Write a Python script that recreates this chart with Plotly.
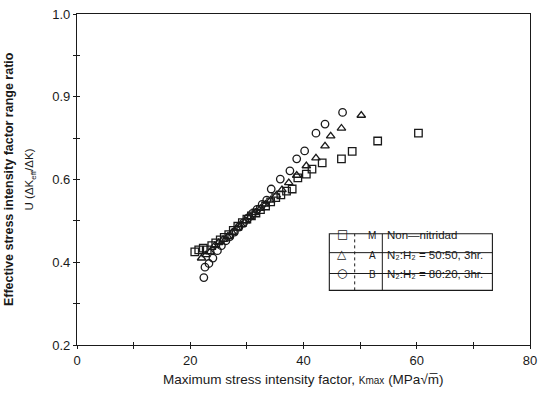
import plotly.graph_objects as go

# Series M: Non-nitrided (squares)
m_k = [20.8, 21.5, 22.3, 23.0, 23.8, 24.5, 25.3, 26.0, 26.8, 27.6, 28.4, 29.2, 30.0, 30.8,
       31.6, 32.4, 33.3, 34.2, 35.1, 36.0, 37.0, 38.0, 39.0, 40.5, 41.5, 43.3, 46.7, 48.6,
       53.1, 60.3]
m_u = [0.425, 0.430, 0.434, 0.430, 0.440, 0.447, 0.454, 0.460, 0.467, 0.477, 0.487, 0.496,
       0.504, 0.512, 0.519, 0.527, 0.536, 0.546, 0.556, 0.563, 0.572, 0.577, 0.604, 0.613,
       0.625, 0.640, 0.650, 0.668, 0.693, 0.712]
# Series A: N2:H2 = 50:50 (triangles)
a_k = [22.0, 22.8, 23.5, 24.3, 25.0, 25.8, 26.6, 27.4, 28.2, 29.0, 29.8, 30.6, 31.5, 32.4,
       33.3, 34.2, 35.2, 36.2, 37.4, 38.8, 40.5, 42.2, 43.8, 44.8, 46.7, 50.2]
a_u = [0.410, 0.418, 0.425, 0.440, 0.447, 0.455, 0.462, 0.472, 0.482, 0.490, 0.500, 0.510,
       0.520, 0.530, 0.540, 0.550, 0.562, 0.575, 0.592, 0.610, 0.633, 0.652, 0.681, 0.705,
       0.724, 0.755]
# Series B: N2:H2 = 80:20 (circles)
b_k = [22.4, 22.6, 23.3, 24.0, 24.8, 25.5, 26.3, 27.0, 27.8, 28.6, 29.4, 30.2, 31.0, 31.8,
       32.7, 33.5, 34.3, 35.9, 37.6, 38.8, 40.2, 42.2, 43.8, 46.9]
b_u = [0.363, 0.388, 0.397, 0.410, 0.428, 0.440, 0.452, 0.462, 0.473, 0.485, 0.495, 0.507,
       0.518, 0.528, 0.540, 0.550, 0.577, 0.601, 0.621, 0.650, 0.669, 0.712, 0.734, 0.762]

x_tickvals = [0, 10, 20, 30, 40, 50, 60, 70, 80]
x_ticktext = ["0", "", "20", "", "40", "", "60", "", "80"]
y_tickvals = [0.2, 0.3, 0.4, 0.5, 0.6, 0.7, 0.8, 0.9, 1.0]
y_ticktext = ["0.2", "", "0.4", "", "0.6", "", "0.9", "", "1.0"]

legend_rows = [("□", "M", "Non\u2014nitridad"),
               ("△", "A", "N\u2082:H\u2082 = 50:50, 3hr."),
               ("○", "B", "N\u2082:H\u2082 = 80:20, 3hr.")]

INK = "#1a1a1a"
FONT = "Liberation Sans"

fig = go.Figure()
mk = dict(color=INK, size=7.5, line=dict(width=1.3))
fig.add_trace(go.Scatter(x=m_k, y=m_u, mode="markers", marker=dict(symbol="square-open", **mk), name="M"))
fig.add_trace(go.Scatter(x=a_k, y=a_u, mode="markers", marker=dict(symbol="triangle-up-open", **mk), name="A"))
fig.add_trace(go.Scatter(x=b_k, y=b_u, mode="markers", marker=dict(symbol="circle-open", **mk), name="B"))

axis_common = dict(showgrid=False, zeroline=False, showline=True, linecolor=INK, linewidth=1.3,
                   mirror=True, ticks="outside", ticklen=3, tickwidth=1, tickcolor=INK,
                   tickfont=dict(family=FONT, size=13, color=INK))

fig.update_layout(
    width=544, height=393,
    margin=dict(l=77, r=7, t=12, b=48),
    paper_bgcolor="white", plot_bgcolor="white",
    showlegend=False,
    xaxis=dict(range=[0, 80], tickvals=x_tickvals, ticktext=x_ticktext, **axis_common),
    yaxis=dict(range=[0.2, 1.0], tickvals=y_tickvals, ticktext=y_ticktext, **axis_common),
    xaxis2=dict(range=[0, 80], overlaying="x", anchor="y", side="bottom", tickvals=x_tickvals,
                showticklabels=False, ticks="inside", ticklen=3, tickcolor=INK, showgrid=False,
                zeroline=False, showline=False),
    yaxis2=dict(range=[0.2, 1.0], overlaying="y", anchor="x", side="left", tickvals=y_tickvals,
                showticklabels=False, ticks="inside", ticklen=3, tickcolor=INK, showgrid=False,
                zeroline=False, showline=False),
)
# invisible trace to activate secondary (tick-only) axes
fig.add_trace(go.Scatter(x=[None], y=[None], xaxis="x2", yaxis="y2", showlegend=False))

# Axis titles
fig.add_annotation(xref="paper", yref="paper", x=0.5, y=-0.105, yanchor="middle",
                   text="Maximum stress intensity factor, <span style='font-size:10px'>Kmax</span> (MPa\u221am\u0305)",
                   showarrow=False, font=dict(family=FONT, size=13.5, color=INK))
fig.add_annotation(xref="paper", yref="paper", x=-0.151, y=0.5, textangle=-90,
                   xanchor="center", yanchor="middle",
                   text="<b>Effective stress intensity factor range ratio</b>",
                   showarrow=False, font=dict(family=FONT, size=12.5, color=INK))
fig.add_annotation(xref="paper", yref="paper", x=-0.104, y=0.5, textangle=-90,
                   xanchor="center", yanchor="middle",
                   text="U (\u0394K<sub>eff</sub>/\u0394K)",
                   showarrow=False, font=dict(family=FONT, size=11.5, color=INK))

# Legend table
x0, x1, y0, y1 = 0.557, 0.917, 0.165, 0.336
fig.add_shape(type="rect", xref="paper", yref="paper", x0=x0, x1=x1, y0=y0, y1=y1,
              line=dict(color=INK, width=1.1), fillcolor="white", layer="above")
for yy in [0.216, 0.279]:
    fig.add_shape(type="line", xref="paper", yref="paper", x0=x0, x1=x1, y0=yy, y1=yy,
                  line=dict(color=INK, width=1))
for xx in [0.613, 0.674]:
    fig.add_shape(type="line", xref="paper", yref="paper", x0=xx, x1=xx, y0=y0, y1=y1,
                  line=dict(color=INK, width=1, dash="dot" if xx == 0.613 else "solid"))
row_y = [0.308, 0.248, 0.190]
for (sym, letter, desc), yy in zip(legend_rows, row_y):
    fig.add_annotation(xref="paper", yref="paper", x=0.585, y=yy, text=sym, showarrow=False,
                       font=dict(family="DejaVu Sans", size=12, color=INK))
    fig.add_annotation(xref="paper", yref="paper", x=0.652, y=yy, text=letter, showarrow=False,
                       font=dict(family=FONT, size=10, color=INK))
    fig.add_annotation(xref="paper", yref="paper", x=0.680, y=yy, xanchor="left", text=desc,
                       showarrow=False, font=dict(family=FONT, size=11.5, color=INK))

fig.write_html("out.html")
